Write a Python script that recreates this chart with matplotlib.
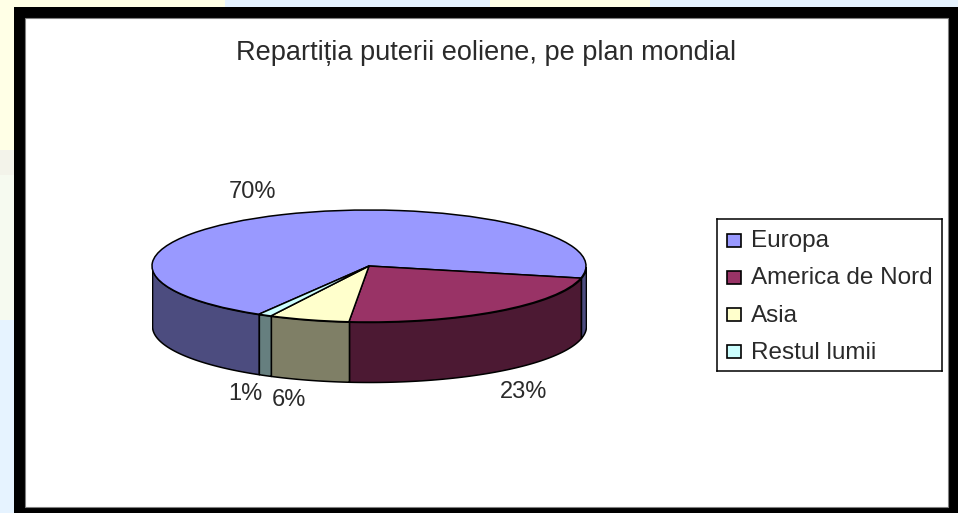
import matplotlib.pyplot as plt
import numpy as np
from matplotlib.patches import Rectangle

# --- Date ---
titlu = 'Repartiția puterii eoliene, pe plan mondial'
regiuni = ['Europa', 'America de Nord', 'Asia', 'Restul lumii']
valori = [70, 23, 6, 1]
etichete = ['70%', '23%', '6%', '1%']
culori = ['#9999FF', '#993366', '#FFFFCC', '#CCFFFF']
culori_lat = ['#4C4C7F', '#4C1933', '#7F7F66', '#667F7F']

W, H = 958, 513
START = 239.5    # unghiul primei felii, in sens orar
GROSIME = 60 / 56  # inaltimea peretelui, in raze verticale
plt.rcParams['font.family'] = ['Liberation Sans', 'DejaVu Sans']


def px(x, y, w, h):
    # dreptunghi in pixeli (origine sus-stanga) -> coordonate figura
    return [x / W, 1 - (y + h) / H, w / W, h / H]


fig = plt.figure(figsize=(W / 100, H / 100), dpi=100, facecolor='#E6F3FF')

# --- Fundal pagina si cadru ---
bg = fig.add_axes([0, 0, 1, 1])
bg.set_xlim(0, W)
bg.set_ylim(H, 0)
bg.axis('off')
bg.add_patch(Rectangle((0, 0), 225, 150, color='#FFFFE6', lw=0))
bg.add_patch(Rectangle((0, 150), 14, 25, color='#F3F3EA', lw=0))
bg.add_patch(Rectangle((0, 175), 14, 145, color='#F6FAF0', lw=0))
bg.add_patch(Rectangle((490, 0), 160, 7, color='#FFFFE6', lw=0))
bg.add_patch(Rectangle((14, 7), W - 14, H - 7, color='black', lw=0))
bg.add_patch(Rectangle((25, 18), 923, 489, facecolor='white', edgecolor='#808080', lw=0.8))

# --- Placinta 3D: elipsa x 152..586, y 210..322 ---
rx, ry = 217, 56
cx, cy = 369, 266
ax = fig.add_axes(px(cx - rx, cy - ry, 2 * rx, 2 * ry + 62))
ax.pie(valori, colors=culori, startangle=START, counterclock=False, radius=1,
       wedgeprops={'edgecolor': 'black', 'linewidth': 1.1, 'zorder': 3})
ax.set_aspect('auto')
ax.set_xlim(-1, 1)
ax.set_ylim(-1 - 62 / ry, 1)
ax.patch.set_visible(False)
for s in ax.spines.values():
    s.set_visible(False)

# pereti laterali, doar partea din fata (180..360 grade)
procente = np.array(valori) / sum(valori) * 360
capete = START - np.concatenate([[0], np.cumsum(procente)])
for i in range(len(valori)):
    t = np.linspace(capete[i + 1], capete[i], 200) % 360
    t = np.sort(t[(t >= 180) & (t <= 360)])
    if len(t) == 0:
        continue
    # felia Europa apare in doua bucati, la stanga si la dreapta
    bucati = np.split(t, np.where(np.diff(t) > 5)[0] + 1)
    for b in bucati:
        xs = np.cos(np.radians(b))
        ys = np.sin(np.radians(b))
        ax.fill_between(xs, ys, ys - GROSIME, facecolor=culori_lat[i],
                        edgecolor='black', linewidth=1.1, zorder=1)

# --- Texte ---
txt = '#2a2a2a'
fig.text(486 / W, 1 - 53 / H, titlu, ha='center', va='center', fontsize=19.5, color=txt)
pozitii = [(252, 192), (524, 392), (289, 400), (245, 394)]
for e, (x, y) in zip(etichete, pozitii):
    fig.text(x / W, 1 - y / H, e, ha='center', va='center', fontsize=17, color=txt)

# --- Legenda ---
leg = fig.add_axes(px(717, 219, 225, 152))
leg.set_xlim(717, 942)
leg.set_ylim(371, 219)
leg.set_xticks([])
leg.set_yticks([])
for s in leg.spines.values():
    s.set_linewidth(1.1)
for i, r in enumerate(regiuni):
    y = 240 + i * 37.3
    leg.add_patch(Rectangle((727, y - 6.5), 14, 13, facecolor=culori[i], edgecolor='black', lw=1.2))
    leg.text(751, y + 1, r, va='center', fontsize=17.5, color=txt)

fig.savefig('out.png', dpi=100)
